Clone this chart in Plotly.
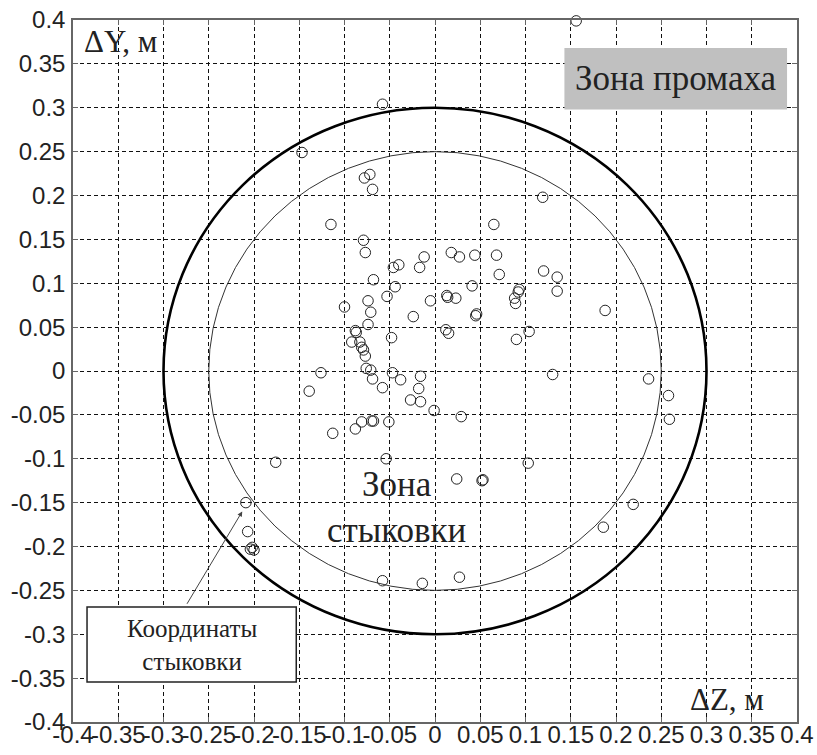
import plotly.graph_objects as go

# Lateral miss coordinates at docking, metres
dz = [0.156, -0.058, -0.147, -0.072, -0.078, -0.069, 0.119, -0.115, 0.065, -0.079,
      -0.077, -0.012, 0.018, 0.027, 0.044, 0.068, 0.120, 0.135, 0.135, -0.040,
      -0.046, -0.017, 0.071, -0.068, 0.041, -0.044, 0.093, 0.092, -0.053, 0.013,
      0.014, 0.023, -0.005, 0.088, 0.089, -0.074, -0.100, -0.071, -0.024, 0.046,
      0.045, 0.188, -0.074, -0.088, -0.087, 0.104, 0.012, 0.015, -0.048, 0.090,
      -0.092, -0.083, -0.081, -0.079, -0.077, -0.076, -0.071, -0.047, -0.016, -0.069,
      -0.038, 0.130, -0.126, 0.236, -0.139, -0.058, -0.018, 0.258, -0.027, -0.016,
      -0.001, 0.029, 0.259, -0.081, -0.070, -0.068, -0.051, -0.088, -0.113, -0.054,
      -0.176, 0.103, 0.024, 0.052, 0.053, -0.209, 0.219, 0.186, -0.207, -0.202,
      -0.200, -0.204, -0.058, -0.014, 0.027]
dy = [0.399, 0.304, 0.249, 0.224, 0.220, 0.207, 0.198, 0.167, 0.167, 0.149,
      0.135, 0.130, 0.135, 0.130, 0.132, 0.132, 0.114, 0.107, 0.091, 0.121,
      0.118, 0.118, 0.110, 0.104, 0.097, 0.096, 0.093, 0.090, 0.085, 0.086,
      0.084, 0.083, 0.080, 0.083, 0.077, 0.080, 0.073, 0.067, 0.062, 0.065,
      0.063, 0.069, 0.053, 0.046, 0.044, 0.045, 0.047, 0.043, 0.038, 0.036,
      0.033, 0.033, 0.027, 0.024, 0.017, 0.003, 0.001, -0.002, -0.006, -0.009,
      -0.010, -0.004, -0.002, -0.009, -0.023, -0.019, -0.020, -0.028, -0.033, -0.035,
      -0.045, -0.052, -0.055, -0.058, -0.057, -0.057, -0.058, -0.066, -0.071, -0.100,
      -0.104, -0.105, -0.123, -0.125, -0.124, -0.150, -0.152, -0.178, -0.183, -0.201,
      -0.204, -0.203, -0.239, -0.242, -0.235]

# Zone radii, metres
miss_radius = 0.30
dock_radius = 0.25

tick_vals = [-0.4, -0.35, -0.3, -0.25, -0.2, -0.15, -0.1, -0.05, 0,
             0.05, 0.1, 0.15, 0.2, 0.25, 0.3, 0.35, 0.4]
tick_text = ["-0.4", "-0.35", "-0.3", "-0.25", "-0.2", "-0.15", "-0.1", "-0.05", "0",
             "0.05", "0.1", "0.15", "0.2", "0.25", "0.3", "0.35", "0.4"]

SANS = "Liberation Sans, Arial, sans-serif"
SERIF = "Liberation Serif, Times New Roman, serif"

fig = go.Figure()
fig.add_trace(go.Scatter(
    x=dz, y=dy, mode="markers", cliponaxis=False, showlegend=False,
    marker=dict(symbol="circle-open", size=10.5, color="#222",
                line=dict(width=1, color="#222")),
))

axis_common = dict(
    range=[-0.4, 0.4], tickvals=tick_vals, ticktext=tick_text,
    showgrid=True, gridcolor="#111", gridwidth=1, griddash="4px,3px",
    zeroline=False, showline=True, linecolor="#666", linewidth=1.5,
    mirror="ticks", ticks="inside", ticklen=5, tickcolor="#666",
    tickfont=dict(family=SANS, size=24, color="#222"),
    tickangle=0, automargin=False,
)

fig.update_layout(
    width=817, height=755,
    margin=dict(l=73, r=20, t=20, b=33),
    paper_bgcolor="white", plot_bgcolor="white",
    xaxis=dict(**axis_common, ticklabelstandoff=-10),
    yaxis=dict(**axis_common, ticklabelstandoff=1),
    shapes=[
        dict(type="circle", xref="x", yref="y", layer="between",
             x0=-miss_radius, x1=miss_radius, y0=-miss_radius, y1=miss_radius,
             line=dict(color="#000", width=2.6)),
        dict(type="circle", xref="x", yref="y", layer="between",
             x0=-dock_radius, x1=dock_radius, y0=-dock_radius, y1=dock_radius,
             line=dict(color="#333", width=1)),
        dict(type="rect", xref="x", yref="y", layer="above",
             x0=0.143, x1=0.389, y0=0.298, y1=0.368,
             fillcolor="#c0c0c0", line=dict(width=0)),
        dict(type="rect", xref="x", yref="y", layer="above",
             x0=-0.3845, x1=-0.1533, y0=-0.3545, y1=-0.269,
             fillcolor="white", line=dict(color="#222", width=1.5)),
    ],
    annotations=[
        dict(x=-0.39, y=0.376, xref="x", yref="y", text="ΔY, м",
             showarrow=False, xanchor="left", yanchor="middle",
             font=dict(family=SERIF, size=31, color="#222")),
        dict(x=0.280, y=-0.374, xref="x", yref="y", text="ΔZ, м",
             showarrow=False, xanchor="left", yanchor="middle",
             font=dict(family=SERIF, size=31, color="#222")),
        dict(x=0.266, y=0.333, xref="x", yref="y", text="Зона промаха",
             showarrow=False, xanchor="center", yanchor="middle",
             font=dict(family=SERIF, size=35, color="#222")),
        dict(x=-0.043, y=-0.155, xref="x", yref="y", text="Зона<br>стыковки",
             showarrow=False, xanchor="center", yanchor="middle",
             font=dict(family=SERIF, size=35, color="#222")),
        dict(x=-0.269, y=-0.312, xref="x", yref="y", text="Координаты<br>стыковки",
             showarrow=False, xanchor="center", yanchor="middle",
             font=dict(family=SERIF, size=25, color="#222")),
        dict(x=-0.213, y=-0.160, xref="x", yref="y", text="",
             ax=-0.275, ay=-0.267, axref="x", ayref="y",
             showarrow=True, arrowhead=2, arrowsize=1, arrowwidth=1,
             arrowcolor="#444", standoff=0),
    ],
)

fig.write_html("out.html")
